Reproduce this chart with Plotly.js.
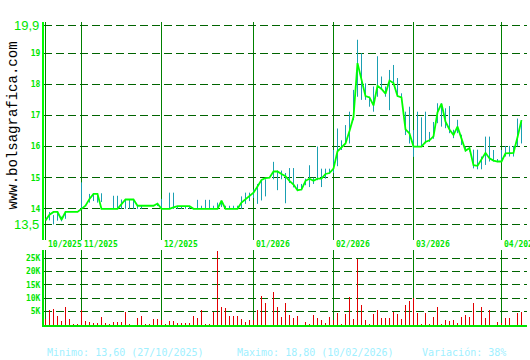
<!DOCTYPE html>
<html>
<head>
<meta charset="utf-8">
<script src="https://cdn.plot.ly/plotly-3.0.1.min.js"></script>
<style>html,body{margin:0;padding:0;background:#fff;}#chart{width:530px;height:360px;}</style>
</head>
<body>
<div id="chart"></div>
<script>
// ---- data (trading-day index 0..119, from 20/10/2025 to ~08/04/2026) ----
const closePrice = [13.63,13.81,13.90,13.90,13.65,13.90,13.90,13.90,13.90,14.00,
  14.10,14.32,14.48,14.48,14.00,14.00,14.00,14.00,14.00,14.15,
  14.30,14.30,14.30,14.10,14.10,14.10,14.10,14.10,14.17,14.00,
  14.00,14.00,14.05,14.09,14.09,14.09,14.09,14.00,14.00,14.00,
  14.00,14.00,14.00,14.00,14.26,14.00,14.00,14.00,14.00,14.20,
  14.30,14.42,14.52,14.72,14.93,14.99,15.00,15.20,15.20,15.12,
  15.05,14.90,14.78,14.60,14.62,14.90,14.97,14.90,14.97,14.97,
  15.12,15.15,15.29,15.85,15.99,16.10,16.50,16.95,18.68,18.15,
  17.62,17.58,17.32,17.95,17.85,17.70,18.12,18.04,17.62,17.58,
  16.55,16.42,16.00,16.00,16.00,16.15,16.20,16.33,17.10,17.38,
  16.80,16.55,16.37,16.64,16.25,15.87,15.95,15.40,15.38,15.57,
  15.80,15.62,15.55,15.52,15.52,15.78,15.80,15.80,16.30,16.85];
const highPrice = [13.63,13.90,13.80,13.90,13.75,13.90,13.90,13.90,13.90,14.85,
  14.10,14.48,14.50,14.50,14.50,14.00,14.00,14.42,14.42,14.30,
  14.30,14.30,14.30,14.10,14.10,14.10,14.10,14.10,14.18,14.32,
  14.00,14.52,14.52,14.09,14.09,14.09,14.09,14.00,14.29,14.10,
  14.29,14.29,14.10,14.20,14.26,14.10,14.10,14.10,14.10,14.40,
  14.52,14.52,14.62,14.80,14.95,14.95,15.00,15.51,15.23,15.23,
  15.15,15.31,15.31,14.79,14.80,14.97,15.40,15.00,16.00,15.29,
  15.29,15.29,15.89,16.58,16.20,16.69,17.12,17.82,19.43,19.00,
  18.03,17.60,17.93,18.90,18.25,17.93,18.46,18.62,18.20,17.71,
  17.12,17.28,16.53,17.12,16.94,17.12,16.47,16.79,17.39,17.39,
  17.23,17.30,16.54,16.86,16.38,16.00,16.00,15.90,15.90,15.68,
  16.32,16.32,15.89,15.60,15.89,16.02,16.02,16.02,16.90,16.85];
const lowPrice = [13.63,13.63,13.50,13.62,13.60,13.68,13.90,13.90,13.90,14.00,
  14.10,14.20,14.25,14.20,14.22,14.00,14.00,14.00,14.00,14.00,
  14.00,14.00,14.00,14.00,14.00,14.10,14.10,14.10,14.09,14.00,
  14.00,14.00,14.00,14.00,14.00,14.00,14.00,14.00,14.00,14.00,
  14.00,14.00,14.00,14.00,14.06,14.00,14.00,14.00,14.00,14.00,
  14.16,14.25,14.35,14.16,14.27,14.40,15.00,14.95,14.60,14.95,
  14.18,14.83,14.69,14.57,14.60,14.76,14.70,14.80,14.92,14.70,
  14.97,15.13,15.15,15.37,15.89,16.10,16.10,16.85,17.60,17.50,
  17.50,17.28,17.12,17.60,17.85,17.60,17.17,18.03,17.65,17.55,
  16.37,16.10,15.67,16.00,16.00,16.10,16.15,16.25,16.75,16.64,
  16.59,16.43,16.27,16.43,16.05,15.84,15.84,15.30,15.27,15.27,
  15.41,15.52,15.52,15.50,15.52,15.68,15.68,15.68,16.00,16.10];
const volumeK = [2.2,5.5,5.8,3.2,1.5,6.6,2.2,0.3,0.2,5.5,
  1.5,1.0,0.6,0.6,2.9,0.6,0.2,1.0,1.0,1.0,
  4.8,0.3,0.1,2.5,3.2,0.2,0.3,2.1,2.1,1.7,
  0.3,1.4,1.4,0.6,0.6,0.6,0.6,3.2,2.5,5.5,
  0.3,0.3,5.0,27.8,6.9,6.2,3.2,3.2,3.2,2.1,
  1.0,1.7,2.0,5.5,10.7,8.1,0.1,12.2,6.6,2.9,
  8.1,3.6,2.5,3.2,0.1,1.0,0.3,3.6,2.5,1.7,
  0.6,2.9,1.7,4.3,0.3,4.0,10.3,2.1,24.8,7.3,
  1.7,0.3,4.0,5.5,2.5,2.5,2.5,4.7,4.0,2.1,
  7.3,8.8,10.0,4.3,0.3,4.3,0.3,2.9,6.9,0.3,
  1.7,1.4,1.7,0.6,2.9,3.6,2.9,8.4,0.1,6.6,
  2.5,5.5,0.1,1.0,0.6,2.5,2.5,0.1,4.3,4.7];
const monthIdx = [0, 9, 29, 52, 72, 92, 114];
const monthLabels = ['10/2025','11/2025','12/2025','01/2026','02/2026','03/2026','04/2026'];
const priceTicks = [13.5,14,15,16,17,18,19,19.9];
const priceTickText = ['','14','15','16','17','18','19',''];
const volTicks = [5,10,15,20,25];
const volTickText = ['5K','10K','15K','20K','25K'];
const summary = ['Minimo: 13,60 (27/10/2025)','Maximo: 18,80 (10/02/2026)','Variación: 38%'];

// ---- build traces ----
const idx = closePrice.map((_, i) => i);
const hlX = [], hlY = [];
idx.forEach(i => { hlX.push(i, i, null); hlY.push(lowPrice[i], highPrice[i], null); });

const GRID = '#006400', MONTH = '#008000', LBL = '#00e600';
const traces = [
  {type:'scatter', mode:'lines', x:hlX, y:hlY, xaxis:'x', yaxis:'y',
   line:{color:'#1a9fb2', width:1}, hoverinfo:'skip'},
  {type:'scatter', mode:'lines', x:idx, y:closePrice, xaxis:'x', yaxis:'y',
   line:{color:'#00ff00', width:1.8}},
  {type:'bar', x:idx, y:volumeK, xaxis:'x2', yaxis:'y2', width:0.25,
   marker:{color:'#e00000', line:{width:0}}}
];

const annotations = [];
annotations.push({xref:'paper', yref:'paper', x:(12.5-44)/483, y:1-126/360, text:'www.bolsagrafica.com',
  textangle:-90, showarrow:false, xanchor:'center', yanchor:'middle',
  font:{family:'Liberation Mono', size:14, color:'#000'}});
[[19.9,'19,9'],[13.5,'13,5']].forEach(([v,t]) => annotations.push({xref:'paper', yref:'y', x:(41-44)/483, y:v,
  text:t, showarrow:false, xanchor:'right', yanchor:'middle',
  font:{family:'Liberation Sans', size:13, color:LBL}}));
monthIdx.forEach((m, k) => annotations.push({xref:'x', yref:'paper', x:m, y:1-244/360, xshift:0,
  text:'<b>'+monthLabels[k]+'</b>', showarrow:false, xanchor:'left', yanchor:'middle',
  font:{family:'DejaVu Sans Mono', size:8, color:LBL}}));
[[45,0],[235,1],[420,2]].forEach(([px,k]) => annotations.push({xref:'paper', yref:'paper', x:(px-44)/483, y:1-352/360,
  text:summary[k], showarrow:false, xanchor:'left', yanchor:'middle',
  font:{family:'DejaVu Sans Mono', size:10, color:'#a0f0ff'}}));

const xCommon = {range:[-0.375, 120.375], tickvals:monthIdx, showticklabels:false, ticks:'',
  showgrid:true, gridcolor:MONTH, gridwidth:1.2, zeroline:false, fixedrange:true};

const layout = {
  width:530, height:360, margin:{l:44, r:3, t:0, b:0},
  paper_bgcolor:'#fff', plot_bgcolor:'#fff', showlegend:false,
  xaxis: Object.assign({}, xCommon, {anchor:'y', showline:false}),
  xaxis2: Object.assign({}, xCommon, {anchor:'y2', matches:'x', showline:true, linecolor:'#00e600', linewidth:2}),
  yaxis: {domain:[1-240/360, 1-22/360], range:[13.0, 20.0], anchor:'x',
    tickvals:priceTicks, ticktext:priceTickText, ticks:'', showgrid:true,
    gridcolor:GRID, gridwidth:1, griddash:'8px,4px', zeroline:false,
    showline:true, linecolor:'#00ff00', linewidth:2,
    tickfont:{family:'DejaVu Sans Mono', size:8, color:LBL, weight:'bold'}},
  yaxis2: {domain:[1-325/360, 1-250/360], range:[0, 28], anchor:'x2',
    tickvals:volTicks, ticktext:volTickText, ticks:'', showgrid:true,
    gridcolor:GRID, gridwidth:1, griddash:'8px,4px', zeroline:false,
    showline:true, linecolor:'#00e600', linewidth:2,
    tickfont:{family:'DejaVu Sans Mono', size:8, color:LBL, weight:'bold'}},
  annotations: annotations,
  bargap:0
};

Plotly.newPlot('chart', traces, layout, {staticPlot:true, displayModeBar:false});
</script>
</body>
</html>
